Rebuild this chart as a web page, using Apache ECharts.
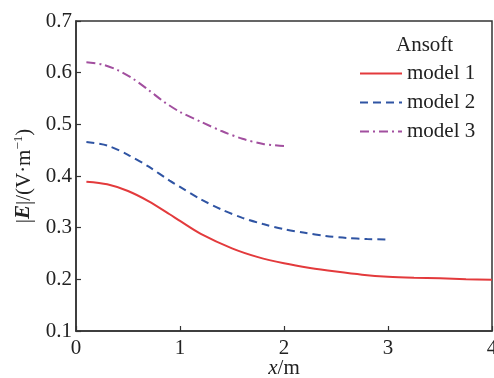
<!DOCTYPE html>
<html>
<head>
<meta charset="utf-8">
<script src="https://cdn.jsdelivr.net/npm/echarts@6/dist/echarts.min.js"></script>
<style>html,body{margin:0;padding:0;background:#fff}#c{width:494px;height:378px}</style>
</head>
<body>
<div id="c"></div>
<script>
const xTicks = ['0', '1', '2', '3', '4'];
const yTicks = ['0.1', '0.2', '0.3', '0.4', '0.5', '0.6', '0.7'];
const legendTitle = 'Ansoft';
const seriesNames = ['model 1', 'model 2', 'model 3'];

const model1X = [0.1, 0.3, 0.5, 0.7, 0.9, 1.0, 1.2, 1.5, 1.75, 2.0, 2.25, 2.5, 2.75, 3.0, 3.25, 3.5, 3.75, 4.0];
const model1Y = [0.389, 0.384, 0.371, 0.351, 0.326, 0.313, 0.288, 0.260, 0.243, 0.231, 0.222, 0.215, 0.209, 0.205, 0.203, 0.202, 0.200, 0.199];

const model2X = [0.1, 0.3, 0.5, 0.7, 0.9, 1.0, 1.2, 1.4, 1.6, 1.8, 2.0, 2.2, 2.4, 2.6, 2.8, 3.0];
const model2Y = [0.466, 0.459, 0.441, 0.418, 0.391, 0.379, 0.355, 0.335, 0.319, 0.307, 0.297, 0.290, 0.284, 0.280, 0.278, 0.277];

const model3X = [0.1, 0.25, 0.4, 0.55, 0.7, 0.85, 1.0, 1.2, 1.4, 1.6, 1.8, 2.0];
const model3Y = [0.620, 0.616, 0.605, 0.588, 0.566, 0.543, 0.524, 0.505, 0.487, 0.472, 0.462, 0.458];

const pairs = (xs, ys) => xs.map((x, i) => [x, ys[i]]);
const FONT = '"Liberation Serif", "Times New Roman", serif';
const ink = '#222';

const chart = echarts.init(document.getElementById('c'));
chart.setOption({
  animation: false,
  backgroundColor: '#fff',
  textStyle: { fontFamily: FONT, color: ink },
  title: {
    text: legendTitle, left: 391, top: 30,
    textStyle: { fontFamily: FONT, fontSize: 21, fontWeight: 'normal', color: ink }
  },
  legend: {
    orient: 'vertical', left: 354, top: 58,
    itemWidth: 42, itemHeight: 14, itemGap: 8,
    itemStyle: { opacity: 0 },
    textStyle: { fontFamily: FONT, fontSize: 21, color: ink },
    data: seriesNames
  },
  grid: { left: 76, right: 2, top: 21, bottom: 47, outerBoundsMode: 'none', containLabel: false, show: true, borderColor: '#333', borderWidth: 1.5, backgroundColor: 'transparent' },
  xAxis: {
    type: 'value', min: 0, max: 4, interval: 1,
    name: '{i|x}/m', nameLocation: 'middle', nameGap: 27, nameMoveOverlap: false,
    nameTextStyle: { fontFamily: FONT, fontSize: 21, color: ink, rich: { i: { fontStyle: 'italic', fontFamily: FONT, fontSize: 21, color: ink } } },
    axisLine: { lineStyle: { color: '#333', width: 1.5 } },
    axisTick: { inside: true, length: 5, lineStyle: { color: '#333', width: 1.2 } },
    axisLabel: { fontFamily: FONT, fontSize: 21, color: ink, margin: 7, formatter: v => xTicks[Math.round(v)] },
    splitLine: { show: false }
  },
  yAxis: {
    type: 'value', min: 0.1, max: 0.7, interval: 0.1,
    name: '|{b|E}|/(V·m{sup|−1})', nameLocation: 'middle', nameGap: 40, nameMoveOverlap: false,
    nameTextStyle: {
      fontFamily: FONT, fontSize: 21, color: ink, lineHeight: 24,
      rich: {
        b: { fontWeight: 'bold', fontStyle: 'italic', fontFamily: FONT, fontSize: 21, color: ink, lineHeight: 24 },
        sup: { fontSize: 13, fontFamily: FONT, color: ink, verticalAlign: 'top', lineHeight: 24, padding: [0, 0, 8, 0] }
      }
    },
    axisLine: { lineStyle: { color: '#333', width: 1.5 } },
    axisTick: { inside: true, length: 5, lineStyle: { color: '#333', width: 1.2 } },
    axisLabel: { fontFamily: FONT, fontSize: 21, color: ink, margin: 4, formatter: v => yTicks[Math.round((v - 0.1) * 10)] },
    splitLine: { show: false }
  },
  series: [
    { name: seriesNames[0], type: 'line', data: pairs(model1X, model1Y), smooth: 0.3, symbol: 'none', showSymbol: false,
      lineStyle: { color: '#e33a3c', width: 2 }, itemStyle: { color: '#e33a3c' } },
    { name: seriesNames[1], type: 'line', data: pairs(model2X, model2Y), smooth: 0.3, symbol: 'none', showSymbol: false,
      lineStyle: { color: '#2f54a3', width: 2, type: [8, 5] }, itemStyle: { color: '#2f54a3' } },
    { name: seriesNames[2], type: 'line', data: pairs(model3X, model3Y), smooth: 0.3, symbol: 'none', showSymbol: false,
      lineStyle: { color: '#a24f9f', width: 2, type: [9, 4, 2, 4] }, itemStyle: { color: '#a24f9f' } }
  ]
});
</script>
</body>
</html>
